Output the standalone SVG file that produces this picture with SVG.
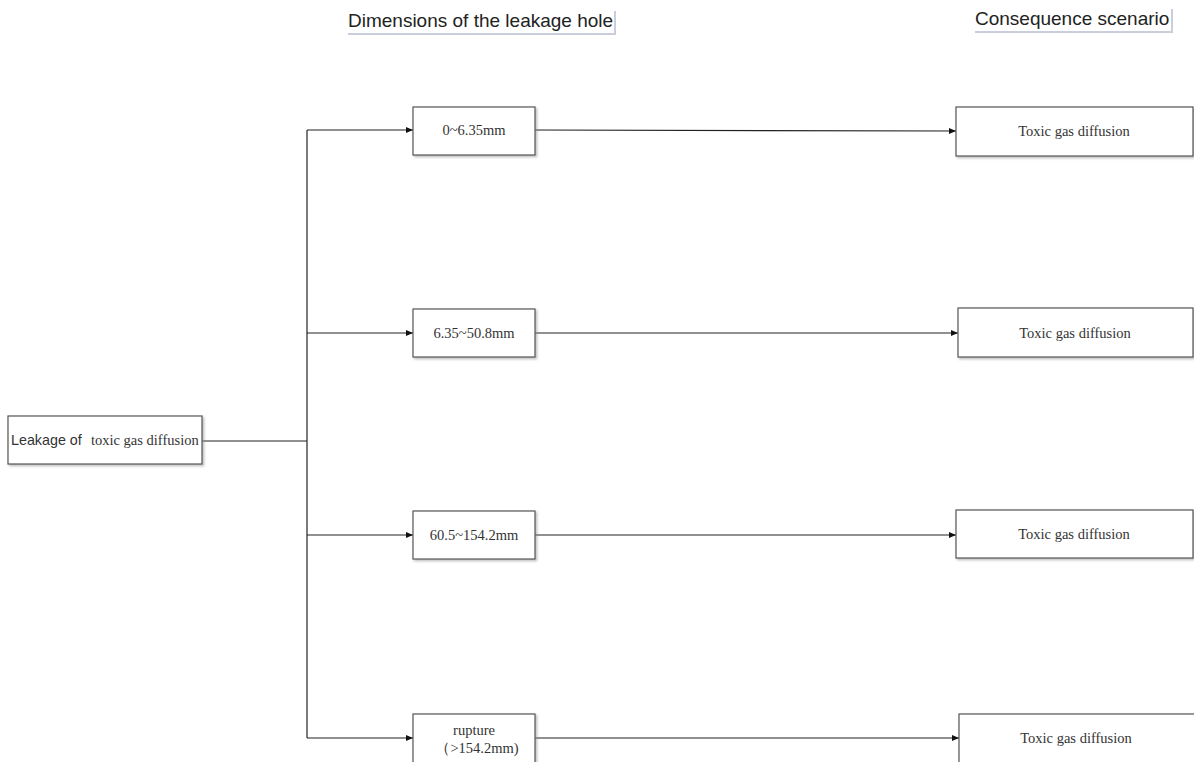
<svg xmlns="http://www.w3.org/2000/svg" width="1194" height="762" viewBox="0 0 1194 762">
  <defs>
    <marker id="arrow" markerWidth="8" markerHeight="8" refX="7" refY="4" orient="auto" markerUnits="userSpaceOnUse">
      <path d="M0,1 L7,4 L0,7 Z" fill="#111"/>
    </marker>
    <filter id="shadow" x="-5%" y="-10%" width="115%" height="130%">
      <feDropShadow dx="1.5" dy="1.5" stdDeviation="1" flood-color="#888" flood-opacity="0.6"/>
    </filter>
  </defs>
  <style>
    .box { fill: #fff; stroke: #555; stroke-width: 1.2; filter: url(#shadow); }
    .line { fill: none; stroke: #222; stroke-width: 1.2; }
    .head { font-family: "Liberation Sans", Arial, sans-serif; font-size: 19px; fill: #222; }
    .serif { font-family: "Liberation Serif", "Times New Roman", serif; font-size: 14.5px; fill: #333; }
    .sans { font-family: "Liberation Sans", Arial, sans-serif; font-size: 14.3px; fill: #333; }
    .rule { stroke: #b8bcd0; stroke-width: 1.5; }
  </style>
  <rect width="1194" height="762" fill="#fff"/>

  <!-- column headings -->
  <g id="heading-dimensions">
    <text class="head" x="348" y="27">Dimensions of the leakage hole</text>
    <line class="rule" x1="615" y1="11" x2="615" y2="33"/>
    <line class="rule" x1="348" y1="34" x2="616" y2="34"/>
  </g>
  <g id="heading-consequence">
    <text class="head" x="975" y="25">Consequence scenario</text>
    <line class="rule" x1="1172" y1="9" x2="1172" y2="31"/>
    <line class="rule" x1="975" y1="32" x2="1173" y2="32"/>
  </g>

  <!-- connectors -->
  <g id="connectors">
    <path class="line" d="M202,441 H307"/>
    <path class="line" d="M307,130 V738"/>
    <path class="line" d="M307,130 H413" marker-end="url(#arrow)"/>
    <path class="line" d="M307,333 H413" marker-end="url(#arrow)"/>
    <path class="line" d="M307,535 H413" marker-end="url(#arrow)"/>
    <path class="line" d="M307,738 H413" marker-end="url(#arrow)"/>
    <path class="line" d="M535,130 L956,131" marker-end="url(#arrow)"/>
    <path class="line" d="M535,333 H958" marker-end="url(#arrow)"/>
    <path class="line" d="M535,535 H956" marker-end="url(#arrow)"/>
    <path class="line" d="M535,738 H959" marker-end="url(#arrow)"/>
  </g>

  <!-- source node -->
  <g id="source">
    <rect class="box" x="8" y="416" width="194" height="48"/>
    <text class="sans" x="11" y="445">Leakage of</text>
    <text class="serif" x="91" y="445">toxic gas diffusion</text>
  </g>

  <!-- leakage hole sizes -->
  <g id="size-1">
    <rect class="box" x="413" y="107" width="122" height="48"/>
    <text class="serif" x="474" y="135" text-anchor="middle">0~6.35mm</text>
  </g>
  <g id="size-2">
    <rect class="box" x="413" y="309" width="122" height="48"/>
    <text class="serif" x="474" y="338" text-anchor="middle">6.35~50.8mm</text>
  </g>
  <g id="size-3">
    <rect class="box" x="413" y="511" width="122" height="48"/>
    <text class="serif" x="474" y="540" text-anchor="middle">60.5~154.2mm</text>
  </g>
  <g id="size-4">
    <rect class="box" x="413" y="714" width="122" height="52"/>
    <text class="serif" x="474" y="735" text-anchor="middle">rupture</text>
    <text class="serif" x="477" y="753" text-anchor="middle">（&gt;154.2mm)</text>
  </g>

  <!-- consequence scenarios -->
  <g id="outcome-1">
    <rect class="box" x="956" y="107" width="237" height="49"/>
    <text class="serif" x="1074" y="136" text-anchor="middle">Toxic gas diffusion</text>
  </g>
  <g id="outcome-2">
    <rect class="box" x="958" y="308" width="235" height="49"/>
    <text class="serif" x="1075" y="338" text-anchor="middle">Toxic gas diffusion</text>
  </g>
  <g id="outcome-3">
    <rect class="box" x="956" y="510" width="237" height="48"/>
    <text class="serif" x="1074" y="539" text-anchor="middle">Toxic gas diffusion</text>
  </g>
  <g id="outcome-4">
    <rect class="box" x="959" y="714" width="240" height="52"/>
    <text class="serif" x="1076" y="743" text-anchor="middle">Toxic gas diffusion</text>
  </g>
</svg>
